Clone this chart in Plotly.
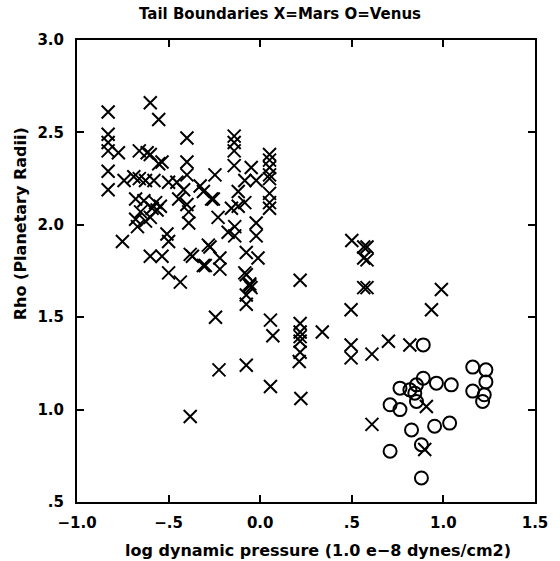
import plotly.graph_objects as go

# Mars (X) boundary points: log dynamic pressure, rho
mars_x = [
    -0.83, -0.60, -0.554, -0.83, -0.83, -0.83, -0.774, -0.40, -0.66, -0.617,
    -0.60, -0.554, -0.536, -0.83, -0.83, -0.743, -0.69, -0.66, -0.626, -0.58,
    -0.50, -0.455, -0.40, -0.40, -0.247, -0.328, -0.31, -0.418, -0.445, -0.40,
    -0.256, -0.68, -0.635, -0.571, -0.545, -0.59, -0.653, -0.563, -0.68, -0.626,
    -0.60, -0.67, -0.39, -0.39, -0.23, -0.752, -0.509, -0.50, -0.60, -0.536,
    -0.50, -0.436, -0.382, -0.37, -0.30, -0.274, -0.22, -0.22,
    -0.142, -0.142, -0.142, -0.142, -0.049, 0.051, 0.051, 0.051, 0.051, 0.051,
    0.051, 0.051, 0.051, -0.084, -0.022, -0.12, -0.084, -0.157, -0.12, -0.265,
    -0.175, -0.139, -0.139, -0.022, -0.022, -0.283, -0.31, -0.076, -0.012,
    -0.084, -0.057, 0.50, 0.565, 0.565, 0.218,
    -0.076, -0.057, -0.05, -0.076, -0.076, -0.244, -0.225, -0.076, 0.056,
    0.069, 0.056, 0.218, 0.218, 0.218, 0.218, 0.218, 0.213, 0.222, 0.339,
    0.496, 0.496, 0.496, 0.565, -0.382,
    0.583, 0.583, 0.583, 0.989, 0.935, 0.70, 0.61, 0.817, 0.907, 0.61, 0.898,
]
mars_rho = [
    2.61, 2.66, 2.57, 2.49, 2.445, 2.40, 2.39, 2.47, 2.40, 2.39,
    2.38, 2.33, 2.34, 2.29, 2.19, 2.24, 2.26, 2.25, 2.24, 2.24,
    2.23, 2.23, 2.34, 2.27, 2.27, 2.21, 2.18, 2.19, 2.14, 2.11,
    2.14, 2.14, 2.13, 2.12, 2.10, 2.09, 2.07, 2.08, 2.03, 2.02,
    2.04, 1.99, 2.07, 2.01, 2.04, 1.91, 1.95, 1.91, 1.83, 1.83,
    1.74, 1.69, 1.84, 1.83, 1.78, 1.88, 1.82, 1.76,
    2.48, 2.445, 2.40, 2.32, 2.31, 2.38, 2.35, 2.31, 2.27, 2.25,
    2.17, 2.12, 2.09, 2.24, 2.24, 2.18, 2.12, 2.09, 2.10, 2.14,
    1.96, 1.94, 1.99, 2.01, 1.94, 1.89, 1.78, 1.85, 1.82,
    1.74, 1.68, 1.915, 1.88, 1.82, 1.70,
    1.73, 1.67, 1.66, 1.62, 1.57, 1.50, 1.215, 1.24, 1.484,
    1.40, 1.125, 1.466, 1.42, 1.395, 1.37, 1.31, 1.26, 1.06, 1.42,
    1.54, 1.35, 1.28, 1.66, 0.963,
    1.88, 1.81, 1.66, 1.65, 1.54, 1.37, 1.30, 1.35, 1.017, 0.92, 0.784,
]

# Venus (O) boundary points
venus_x = [
    0.89, 1.16, 1.232, 1.232, 1.16, 1.223, 1.214, 0.763, 0.817, 0.853,
    0.89, 0.962, 1.043, 0.844, 0.853, 0.709, 0.763, 0.826, 0.952, 1.034,
    0.88, 0.709, 0.88,
]
venus_rho = [
    1.35, 1.23, 1.215, 1.15, 1.10, 1.08, 1.044, 1.116, 1.107, 1.134,
    1.17, 1.143, 1.134, 1.089, 1.044, 1.026, 1.0, 0.89, 0.91, 0.927,
    0.81, 0.775, 0.63,
]

x_ticks = [-1.0, -0.5, 0.0, 0.5, 1.0, 1.5]
x_tick_labels = ["\u22121.0", "\u2212.5", "0.0", ".5", "1.0", "1.5"]
y_ticks = [0.5, 1.0, 1.5, 2.0, 2.5, 3.0]
y_tick_labels = [".5", "1.0", "1.5", "2.0", "2.5", "3.0"]

FONT = "DejaVu Sans"

fig = go.Figure()
fig.add_trace(go.Scatter(
    x=mars_x, y=mars_rho, mode="markers", name="Mars",
    marker=dict(symbol="x-thin-open", size=13, color="black",
                line=dict(color="black", width=2)),
))
fig.add_trace(go.Scatter(
    x=venus_x, y=venus_rho, mode="markers", name="Venus",
    marker=dict(symbol="circle-open", size=13, color="black",
                line=dict(color="black", width=2)),
))

axis_common = dict(
    showgrid=False, zeroline=False, showline=True, linecolor="black",
    linewidth=2, mirror="ticks", ticks="inside", ticklen=7, tickwidth=2,
    tickcolor="black",
    tickfont=dict(family=FONT, size=15, color="black", weight="bold"),
)

fig.update_layout(
    width=560, height=561,
    margin=dict(l=77, r=20, t=40, b=59),
    paper_bgcolor="white", plot_bgcolor="white",
    showlegend=False,
    xaxis=dict(range=[-1.0, 1.5], tickvals=x_ticks, ticktext=x_tick_labels,
               ticklabelstandoff=6, **axis_common),
    yaxis=dict(range=[0.5, 3.0], tickvals=y_ticks, ticktext=y_tick_labels,
               ticklabelstandoff=8, **axis_common),
    annotations=[
        dict(text="Tail Boundaries X=Mars O=Venus", xref="paper", yref="paper",
             x=(282 - 77) / 463, y=1.0, yshift=26, showarrow=False,
             xanchor="center", yanchor="middle",
             font=dict(family=FONT, size=15, color="black", weight="bold")),
        dict(text="log dynamic pressure (1.0 e\u22128 dynes/cm2)", xref="paper",
             yref="paper", x=(321 - 77) / 463, y=0, yshift=-48,
             showarrow=False, xanchor="center", yanchor="middle",
             font=dict(family=FONT, size=16, color="black", weight="bold")),
        dict(text="Rho (Planetary Radii)", xref="paper", yref="paper",
             x=0, xshift=-57, y=(501 - 222) / 464, textangle=-90,
             showarrow=False, xanchor="center", yanchor="middle",
             font=dict(family=FONT, size=16, color="black", weight="bold")),
    ],
)

fig.write_html("out.html")
